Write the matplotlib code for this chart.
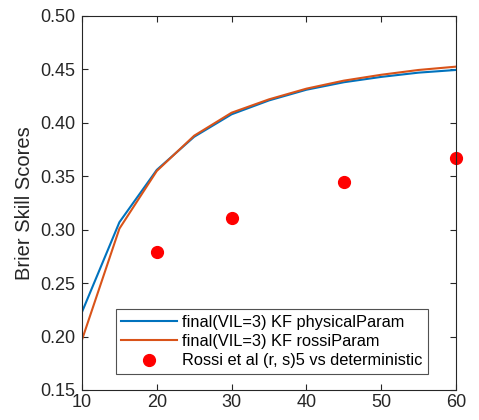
import numpy as np
import matplotlib
matplotlib.use('Agg')
import matplotlib.pyplot as plt

plt.rcParams['font.family'] = ['Liberation Sans', 'DejaVu Sans']

lead = [10, 15, 20, 25, 30, 35, 40, 45, 50, 55, 60]
physical = [0.223, 0.307, 0.356, 0.387, 0.408, 0.421, 0.431, 0.438, 0.443, 0.447, 0.4495]
rossi = [0.197, 0.301, 0.355, 0.388, 0.4095, 0.422, 0.432, 0.4395, 0.445, 0.4495, 0.4526]
det_x = [20, 30, 45, 60]
det_y = [0.2795, 0.3107, 0.345, 0.367]

labels = ['final(VIL=3) KF physicalParam',
          'final(VIL=3) KF rossiParam',
          'Rossi et al (r, s)5 vs deterministic']

fig = plt.figure(figsize=(4.79, 4.20), dpi=100)
ax = fig.add_axes([82/479, 1 - 390/420, 374/479, 374/420])

ax.plot(lead, physical, color='#0072BD', lw=1.5, label=labels[0])
ax.plot(lead, rossi, color='#D95319', lw=1.5, label=labels[1])
ax.plot(det_x, det_y, 'o', color='red', ms=8.5, label=labels[2], clip_on=False)

ax.set_xlim(10, 60)
ax.set_ylim(0.15, 0.50)
ax.set_xticks(range(10, 61, 10))
ax.set_yticks(np.arange(0.15, 0.501, 0.05))
ax.set_yticklabels(['%.2f' % v for v in np.arange(0.15, 0.501, 0.05)])
ax.tick_params(direction='in', length=4, top=True, right=True,
               labelsize=13, colors='#262626', width=0.8)
ax.tick_params(axis='x', pad=3)
ax.tick_params(axis='y', pad=5)
for s in ax.spines.values():
    s.set_color('#262626')
    s.set_linewidth(0.8)
ax.set_ylabel('Brier Skill Scores', fontsize=14.5, color='#262626', labelpad=4)

leg = ax.legend(loc='lower right', bbox_to_anchor=(1 - 28/374, 16/374),
                fontsize=11.8, handlelength=3.4, frameon=True, fancybox=False,
                borderpad=0.35, labelspacing=0.25, handletextpad=0.3, borderaxespad=0)
leg.get_frame().set_edgecolor('#262626')
leg.get_frame().set_linewidth(0.8)

fig.savefig('out.png', dpi=100)
